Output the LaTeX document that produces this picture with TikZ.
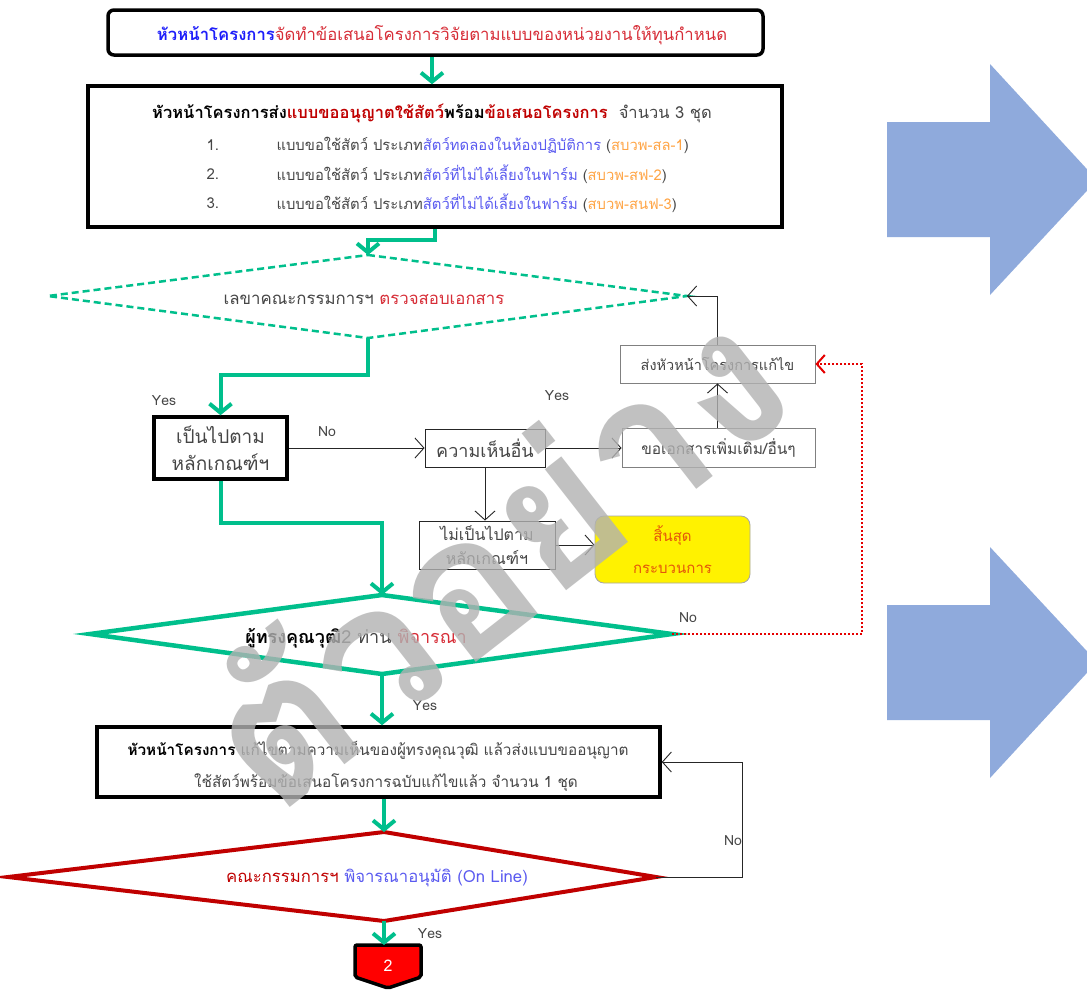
\documentclass[tikz,border=0pt]{standalone}
\usepackage{fontspec}
\setmainfont[Script=Thai]{Loma}
\usetikzlibrary{arrows.meta,calc}
\definecolor{gr}{RGB}{0,191,140}
\definecolor{dred}{RGB}{192,0,0}
\definecolor{tred}{RGB}{215,45,55}
\definecolor{tblue}{RGB}{30,30,250}
\definecolor{lblue}{RGB}{90,90,240}
\definecolor{torange}{RGB}{255,165,70}
\definecolor{txt}{RGB}{70,70,70}
\definecolor{arrowblue}{RGB}{143,170,220}
\definecolor{endorange}{RGB}{228,85,10}
\newcommand{\fsz}[1]{\fontsize{#1pt}{#1pt}\selectfont}
\begin{document}
\begin{tikzpicture}[x=1pt,y=-1pt,
  bigbox/.style={draw=black,line width=3.5pt,inner sep=0pt,align=center},
  thinbox/.style={draw=black!85,line width=0.9pt,inner sep=0pt,align=center,text=txt},
  graybox/.style={draw=black!50,line width=0.9pt,inner sep=0pt,align=center,text=txt},
  garrow/.style={draw=gr,line width=4pt,-{Straight Barb[length=9pt,width=22pt]}},
  barrow/.style={draw=black!85,line width=0.9pt,-{Straight Barb[length=9pt,width=20pt]}},
  rdot/.style={draw=red!90!black,line width=2pt,dash pattern=on 2pt off 2pt,-{Straight Barb[length=8pt,width=18pt,line width=2pt]}},
  lbl/.style={text=txt,font=\fsz{14}},
  every node/.append style={font=\fsz{14}}
]
\useasboundingbox (0,0) rectangle (1087,989);
\fill[white] (0,0) rectangle (1087,989);

% right blue arrows
\fill[arrowblue] (887,122) -- (990,122) -- (990,64) -- (1097,180) -- (990,295) -- (990,237) -- (887,237) -- cycle;
\fill[arrowblue] (887,605) -- (990,605) -- (990,547) -- (1097,662) -- (990,778) -- (990,720) -- (887,720) -- cycle;

% box 1
\node[bigbox,rounded corners=6pt,minimum width=655pt,minimum height=45pt] (b1) at (435.5,32.5) {};
\node[font=\fsz{16.7}] (t1) at (442,35) {\textcolor{tblue}{\bfseries หัวหน้าโครงการ}\textcolor{tred}{จัดทำข้อเสนอโครงการวิจัยตามแบบของหน่วยงานให้ทุนกำหนด}};

% box 2
\node[bigbox,minimum width=694pt,minimum height=141pt] (b2) at (435,156.5) {};
\node[font=\fsz{16.5}] (t2) at (432,113) {{\bfseries หัวหน้าโครงการส่ง\textcolor{dred}{แบบขออนุญาตใช้สัตว์}พร้อม\textcolor{dred}{ข้อเสนอโครงการ}}\textcolor{txt}{\ \ จำนวน 3 ชุด}};
\node[anchor=west,text=txt,font=\fsz{15}] (n1) at (203,145) {1.};
\node[anchor=west,text=txt,font=\fsz{15}] (n2) at (203,174) {2.};
\node[anchor=west,text=txt,font=\fsz{15}] (n3) at (203,203) {3.};
\node[anchor=west,text=txt,font=\fsz{14.8}] (i1) at (273,145) {แบบขอใช้สัตว์ ประเภท\textcolor{lblue}{สัตว์ทดลองในห้องปฏิบัติการ} (\textcolor{torange}{สบวพ-สล-1})};
\node[anchor=west,text=txt,font=\fsz{14.8}] (i2) at (273,174) {แบบขอใช้สัตว์ ประเภท\textcolor{lblue}{สัตว์ที่ไม่ได้เลี้ยงในฟาร์ม} (\textcolor{torange}{สบวพ-สฟ-2})};
\node[anchor=west,text=txt,font=\fsz{14.8}] (i3) at (273,203) {แบบขอใช้สัตว์ ประเภท\textcolor{lblue}{สัตว์ที่ไม่ได้เลี้ยงในฟาร์ม} (\textcolor{torange}{สบวพ-สนฟ-3})};

% diamond 1 (dashed)
\coordinate (d1t) at (368,255);
\coordinate (d1r) at (687,296);
\coordinate (d1b) at (368,338);
\coordinate (d1l) at (48,296);
\draw[gr,line width=2.5pt,dash pattern=on 7pt off 4pt] (d1t) -- (d1r) -- (d1b) -- (d1l) -- cycle;
\node[text=txt,font=\fsz{16.8}] (t3) at (364,300) {เลขาคณะกรรมการฯ \textcolor{tred}{ตรวจสอบเอกสาร}};

% middle boxes
\node[bigbox,minimum width=133pt,minimum height=62pt,text=txt,font=\fontsize{19pt}{27pt}\selectfont] (b3) at (220.5,448) {เป็นไปตาม\\หลักเกณฑ์ฯ};
\node[thinbox,minimum width=120pt,minimum height=38pt,font=\fsz{18}] (op) at (485,448) {ความเห็นอื่น};
\node[graybox,minimum width=193pt,minimum height=39pt,font=\fsz{15.5}] (md) at (718.5,448) {ขอเอกสารเพิ่มเติม/อื่นๆ};
\node[graybox,minimum width=195pt,minimum height=38pt,font=\fsz{14.5}] (sd) at (717.5,364) {ส่งหัวหน้าโครงการแก้ไข};
\node[thinbox,minimum width=136pt,minimum height=48pt,font=\fontsize{16pt}{24pt}\selectfont] (nk) at (487,545) {ไม่เป็นไปตาม\\หลักเกณฑ์ฯ};
\node[draw=black!35,line width=0.8pt,fill=yellow,rounded corners=9pt,minimum width=155pt,minimum height=67pt,inner sep=0pt,align=center,text=endorange,font=\fontsize{15pt}{32pt}\selectfont] (en) at (672.5,549.5) {สิ้นสุด\\กระบวนการ};

% diamond 2
\coordinate (d2t) at (382,595);
\coordinate (d2r) at (672,634);
\coordinate (d2b) at (382,674);
\coordinate (d2l) at (90,634);
\draw[gr,line width=4.5pt,line join=miter] (d2t) -- (d2r) -- (d2b) -- (d2l) -- cycle;
\node[font=\fsz{18}] (t4) at (356,638) {{\bfseries ผู้ทรงคุณวุฒิ}\textcolor{txt}{ 2 ท่าน }\textcolor{tred}{พิจารณา}};

% box 4
\node[bigbox,minimum width=563pt,minimum height=70pt] (b4) at (378.5,762) {};
\node[text=txt,font=\fsz{15.3}] (t5) at (378,750) {\textcolor{black}{\bfseries หัวหน้าโครงการ} แก้ไขตามความเห็นของผู้ทรงคุณวุฒิ แล้วส่งแบบขออนุญาต};
\node[text=txt,font=\fsz{15.3}] (t6) at (386,783) {ใช้สัตว์พร้อมข้อเสนอโครงการฉบับแก้ไขแล้ว จำนวน 1 ชุด};

% red diamond
\coordinate (rdt) at (384,832);
\coordinate (rdr) at (656,877);
\coordinate (rdb) at (384,921);
\coordinate (rdl) at (8,877);
\draw[dred,line width=4pt,line join=miter] (rdt) -- (rdr) -- (rdb) -- (rdl) -- cycle;
\node[font=\fsz{16.7}] (t7) at (377,878) {\textcolor{dred}{คณะกรรมการฯ} \textcolor{lblue}{พิจารณาอนุมัติ (On Line)}};

% off-page marker
\coordinate (mkt) at (384,945);
\draw[fill=red,line width=3.5pt,rounded corners=2pt] (355,945) -- (421,945) -- (421,977) -- (388,988) -- (355,977) -- cycle;
\node[text=white,font=\fsz{16}] (mk) at (388,966) {2};

% connectors
\draw[garrow] (b1.south -| 432,0) -- (b2.north -| 432,0);
\draw[garrow] (b2.south) -- ++(0,11) -| (d1t);
\draw[garrow] (d1b) -- ++(0,37) -| (b3.north);
\draw[garrow] (b3.south) -- ++(0,42) -| (d2t);
\draw[barrow] (b3.east) -- (op.west);
\draw[barrow] (op.east) -- (md.west);
\draw[barrow] (md.north -| sd.south) -- (sd.south);
\draw[barrow] (sd.north) |- (d1r);
\draw[barrow] (op.south) -- (op.south |- nk.north);
\draw[barrow] (nk.east) -- (nk.east -| en.west);
\coordinate (rc) at (862,634);
\draw[rdot] (d2r) -- (rc) |- (sd.east);
\draw[garrow] (d2b) -- (d2b |- b4.north);
\draw[garrow] (b4.south -| rdt) -- (rdt);
\coordinate (bc) at (742,877);
\draw[barrow] (rdr) -- (bc) |- (b4.east);
\draw[garrow] (rdb) -- (mkt);

% labels
\node[lbl] (y1) at (164,401) {Yes};
\node[lbl] (n1l) at (327,432) {No};
\node[lbl] (y2) at (557,396) {Yes};
\node[lbl] (n2l) at (688,618) {No};
\node[lbl] (y3) at (425,706) {Yes};
\node[lbl] (n3l) at (733,841) {No};
\node[lbl] (y4) at (430,934) {Yes};

% watermark
\node[rotate=38,text=black!30,opacity=0.8,font=\fontsize{195pt}{195pt}\selectfont\bfseries] (wm) at (490,552) {ตัวอย่าง};
\end{tikzpicture}
\end{document}
